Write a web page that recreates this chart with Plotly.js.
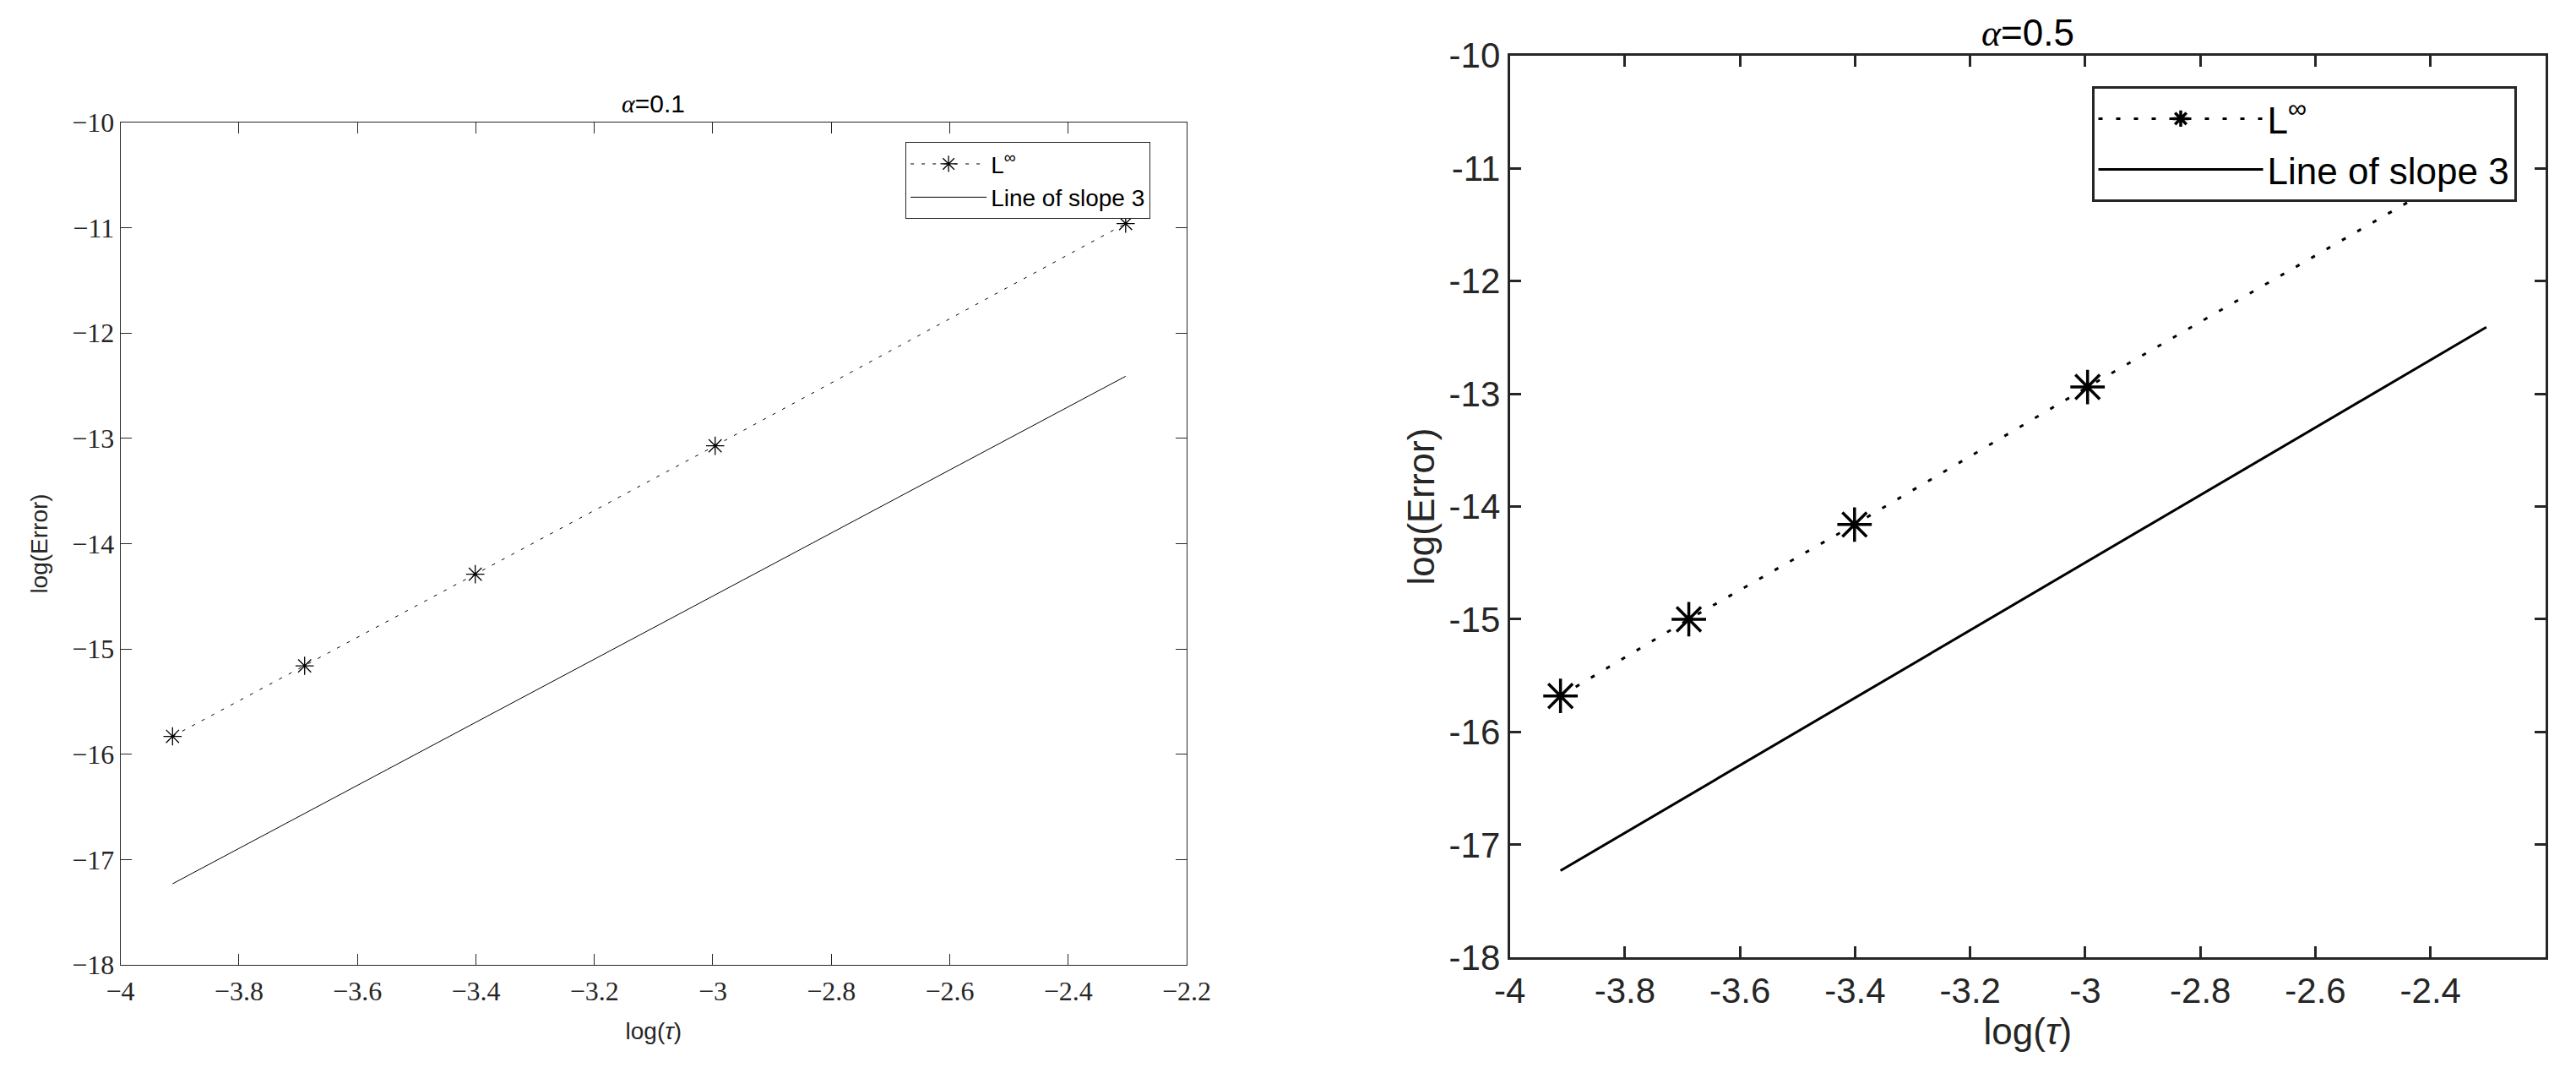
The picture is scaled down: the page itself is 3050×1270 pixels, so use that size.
<!DOCTYPE html>
<html>
<head>
<meta charset="utf-8">
<script src="https://cdn.plot.ly/plotly-3.0.1.min.js"></script>
<style>html,body{margin:0;padding:0;background:#fff;}#chart{width:3050px;height:1270px;}</style>
</head>
<body>
<div id="chart"></div>
<script>
// ---- data ----
const logTau = [-3.912, -3.689, -3.401, -2.996, -2.303];
const errAlpha01 = [-15.83, -15.16, -14.29, -13.07, -10.96];
const errAlpha05 = [-15.68, -15.00, -14.16, -12.94, -10.90];
const slopeX = [-3.912, -2.303];
const slopeAlpha01 = [-17.23, -12.41];
const slopeAlpha05 = [-17.23, -12.41];

const yTickVals = [-18, -17, -16, -15, -14, -13, -12, -11, -10];
const yTickTextLeft = ['\u221218', '\u221217', '\u221216', '\u221215', '\u221214', '\u221213', '\u221212', '\u221211', '\u221210'];
const yTickTextRight = ['-18', '-17', '-16', '-15', '-14', '-13', '-12', '-11', '-10'];
const xTickValsLeft = [-4, -3.8, -3.6, -3.4, -3.2, -3, -2.8, -2.6, -2.4, -2.2];
const xTickTextLeft = ['\u22124', '\u22123.8', '\u22123.6', '\u22123.4', '\u22123.2', '\u22123', '\u22122.8', '\u22122.6', '\u22122.4', '\u22122.2'];
const xTickValsRight = [-4, -3.8, -3.6, -3.4, -3.2, -3, -2.8, -2.6, -2.4];
const xTickTextRight = ['-4', '-3.8', '-3.6', '-3.4', '-3.2', '-3', '-2.8', '-2.6', '-2.4'];

const nameErr = 'L<sup>\u221e</sup>';
const nameSlope = 'Line of slope 3';

const AX = '#262626';
const SANS = 'Liberation Sans, Arial, Helvetica, sans-serif';
const SERIF = 'Liberation Serif, Times New Roman, serif';

const traces = [
  {x: logTau, y: errAlpha01, xaxis: 'x', yaxis: 'y', mode: 'lines+markers', name: nameErr, legend: 'legend',
   line: {color: 'black', width: 1, dash: '4px,9px'},
   marker: {symbol: 'asterisk-open', size: 18, color: 'black', line: {color: 'black', width: 1.3}}},
  {x: slopeX, y: slopeAlpha01, xaxis: 'x', yaxis: 'y', mode: 'lines', name: nameSlope, legend: 'legend',
   line: {color: 'black', width: 1}},
  {x: logTau, y: errAlpha05, xaxis: 'x2', yaxis: 'y2', mode: 'lines+markers', name: nameErr, legend: 'legend2',
   line: {color: 'black', width: 3, dash: '5px,16px'},
   marker: {symbol: 'asterisk-open', size: 34, color: 'black', line: {color: 'black', width: 3.5}}},
  {x: slopeX, y: slopeAlpha05, xaxis: 'x2', yaxis: 'y2', mode: 'lines', name: nameSlope, legend: 'legend2',
   line: {color: 'black', width: 3}}
];

function axisBase(lw, tickfont) {
  return {showgrid: false, zeroline: false, showline: true, linecolor: AX, linewidth: lw,
          mirror: 'ticks', ticks: 'inside', ticklen: 13, tickwidth: lw, tickcolor: AX,
          tickfont: tickfont, fixedrange: true, automargin: false};
}

const layout = {
  width: 3050, height: 1270,
  margin: {l: 0, r: 0, t: 0, b: 0},
  paper_bgcolor: 'white', plot_bgcolor: 'white',
  showlegend: true,
  font: {family: SANS, color: AX},
  xaxis: Object.assign(axisBase(1, {family: SERIF, size: 32, color: AX}), {
    domain: [0.04675, 0.46066], range: [-4, -2.2], anchor: 'y',
    tickmode: 'array', tickvals: xTickValsLeft, ticktext: xTickTextLeft, ticklabelstandoff: 3,
    title: {text: 'log(<i>\u03c4</i>)', font: {family: SANS, size: 28, color: AX}, standoff: 20}
  }),
  yaxis: Object.assign(axisBase(1, {family: SERIF, size: 32, color: AX}), {
    domain: [0.10079, 0.88583], range: [-18, -10], anchor: 'x',
    tickmode: 'array', tickvals: yTickVals, ticktext: yTickTextLeft,
    title: {text: 'log(Error)', font: {family: SANS, size: 28, color: AX}, standoff: 20}
  }),
  xaxis2: Object.assign(axisBase(3, {family: SANS, size: 42, color: AX}), {
    domain: [0.58613, 0.98820], range: [-4, -2.2], anchor: 'y2',
    tickmode: 'array', tickvals: xTickValsRight, ticktext: xTickTextRight,
    title: {text: 'log(<i>\u03c4</i>)', font: {family: SANS, size: 44, color: AX}, standoff: 4}
  }),
  yaxis2: Object.assign(axisBase(3, {family: SANS, size: 42, color: AX}), {
    domain: [0.10764, 0.94827], range: [-18, -10], anchor: 'x2',
    tickmode: 'array', tickvals: yTickVals, ticktext: yTickTextRight,
    title: {text: 'log(Error)', font: {family: SANS, size: 44, color: AX}, standoff: 4}
  }),
  legend: {x: 0.4466, xanchor: 'right', y: 0.8675, yanchor: 'top',
           bgcolor: 'white', bordercolor: AX, borderwidth: 1,
           font: {family: SANS, size: 28, color: 'black'}, itemwidth: 90, tracegroupgap: 0},
  legend2: {x: 0.97689, xanchor: 'right', y: 0.91945, yanchor: 'top',
            bgcolor: 'white', bordercolor: AX, borderwidth: 3,
            font: {family: SANS, size: 44, color: 'black'}, itemwidth: 195, tracegroupgap: 0},
  annotations: [
    {text: '<span style="font-family:Liberation Serif"><i>\u03b1</i></span>=0.1', xref: 'paper', yref: 'paper',
     x: 0.2537, y: 0.9035, xanchor: 'center', yanchor: 'middle', showarrow: false,
     font: {family: SANS, size: 30, color: 'black'}},
    {text: '<span style="font-family:Liberation Serif"><i>\u03b1</i></span>=0.5', xref: 'paper', yref: 'paper',
     x: 0.7872, y: 0.9693, xanchor: 'center', yanchor: 'middle', showarrow: false,
     font: {family: SANS, size: 44, color: 'black'}}
  ]
};

Plotly.newPlot('chart', traces, layout, {displayModeBar: false, staticPlot: true});
</script>
</body>
</html>
